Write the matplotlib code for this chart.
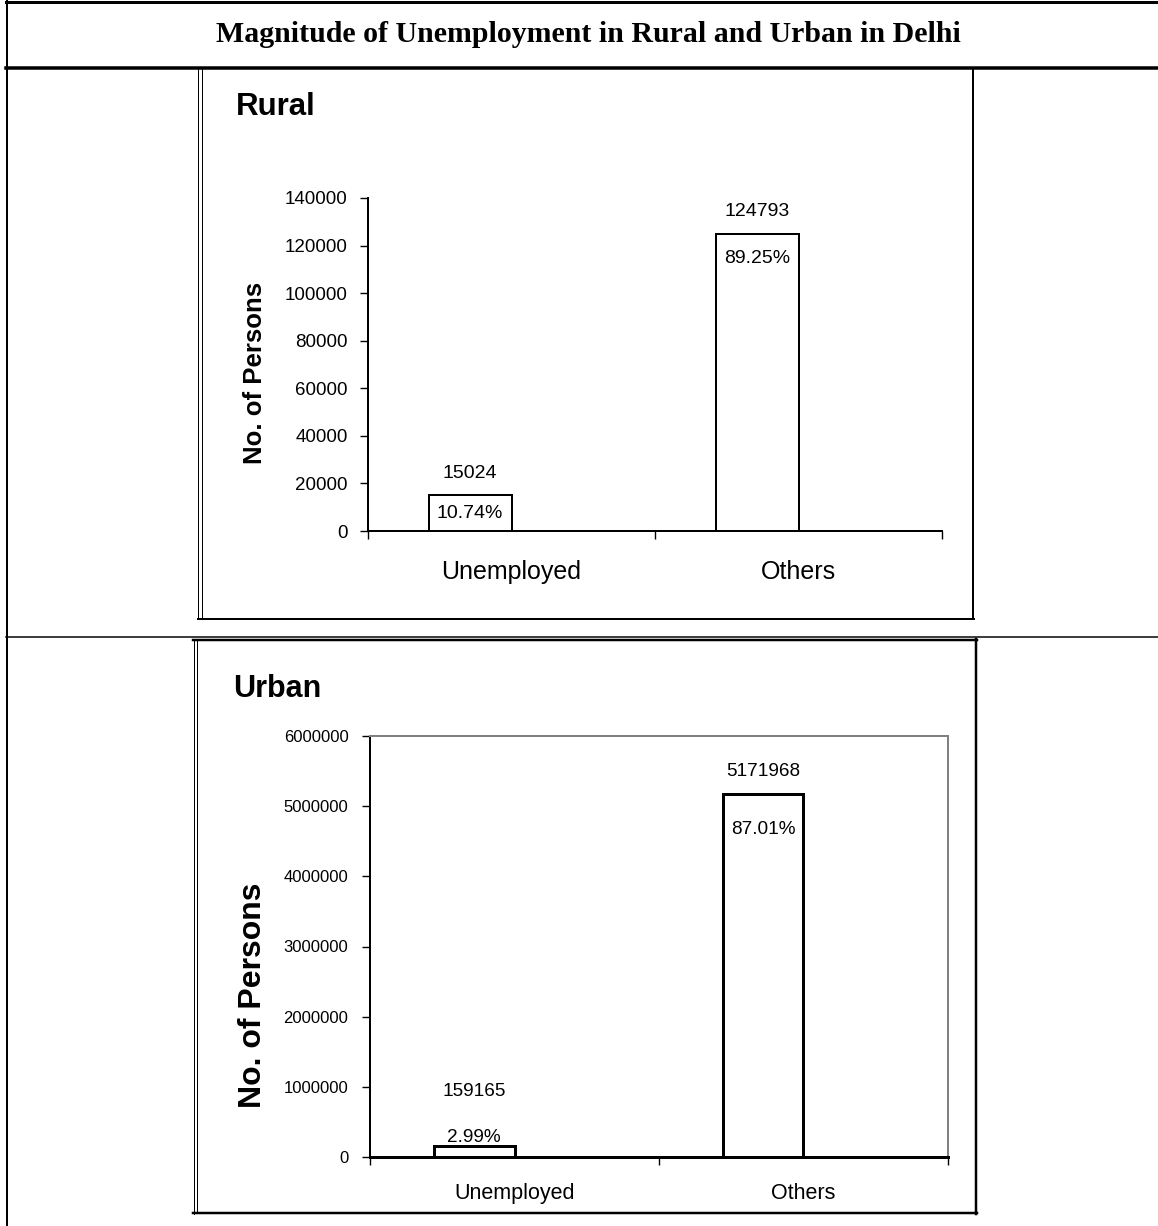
import matplotlib.pyplot as plt
import numpy as np

# Population counts for Delhi, rural and urban
categories = ["Unemployed", "Others"]
rural_persons = [15024, 124793]
rural_share = [10.74, 89.25]
urban_persons = [159165, 5171968]
urban_share = [2.99, 87.01]

rural_yticks = [0, 20000, 40000, 60000, 80000, 100000, 120000, 140000]
urban_yticks = [0, 1000000, 2000000, 3000000, 4000000, 5000000, 6000000]

W, H = 1158, 1226
plt.rcParams['font.family'] = ['Liberation Sans', 'DejaVu Sans']

fig = plt.figure(figsize=(W / 100, H / 100), dpi=100)


def px_axes(x0, y0, x1, y1):
    return fig.add_axes([x0 / W, 1 - y1 / H, (x1 - x0) / W, (y1 - y0) / H])


def lw(px):
    return px * 0.72


# table frame and chart boxes, drawn in pixel space
frame = fig.add_axes([0, 0, 1, 1], zorder=0)
frame.set_xlim(0, W)
frame.set_ylim(H, 0)
frame.axis('off')
k = 'black'
frame.plot([6, W], [1.5, 1.5], color=k, lw=lw(3))
frame.plot([7, 7], [0, H], color=k, lw=lw(2))
frame.plot([6, W], [68, 68], color=k, lw=lw(3.5))
frame.plot([6, W], [637, 637], color=k, lw=lw(1.5))
# rural box
frame.plot([198, 198], [69, 619], color=k, lw=lw(1))
frame.plot([201.5, 201.5], [69, 617], color=k, lw=lw(1))
frame.plot([972.5, 972.5], [69, 619], color=k, lw=lw(2))
frame.plot([198, 973.5], [618.5, 618.5], color=k, lw=lw(2))
# urban box
frame.plot([193, 977], [639.5, 639.5], color=k, lw=lw(2.5))
frame.plot([193.5, 193.5], [639, 1214], color=k, lw=lw(1))
frame.plot([197, 197], [641, 1212], color=k, lw=lw(1))
frame.plot([976, 976], [639, 1214], color=k, lw=lw(2.5))
frame.plot([193, 977], [1213, 1213], color=k, lw=lw(2.5))

fig.text(588 / W, 1 - 34 / H, "Magnitude of Unemployment in Rural and Urban in Delhi",
         ha='center', va='center', fontsize=21.5, fontweight='bold',
         family=['Liberation Serif', 'DejaVu Serif'])


def draw_panel(ax, values, shares, yticks, bw, offsets, spine_w, bar_w,
               tick_fs, cat_fs, val_fs, ylab_fs, ylab_pos, ypad, xpad):
    x = np.arange(len(categories))
    ax.bar(x - bw / 2, values, width=bw, color='white', edgecolor='black',
           linewidth=lw(bar_w), zorder=3)
    ax.set_xlim(-0.5, len(categories) - 0.5)
    ax.set_ylim(yticks[0], yticks[-1])
    ax.set_yticks(yticks)
    ax.set_yticklabels([str(t) for t in yticks], fontsize=tick_fs)
    ax.set_xticks(np.arange(len(categories) + 1) - 0.5)
    ax.set_xticklabels([])
    ax.set_xticks(x, minor=True)
    ax.set_xticklabels(categories, minor=True, fontsize=cat_fs)
    ax.tick_params(axis='x', which='major', direction='out', length=6, width=1)
    ax.tick_params(axis='x', which='minor', length=0, pad=xpad)
    ax.tick_params(axis='y', direction='out', length=5.5, width=1, pad=ypad)
    ax.spines['left'].set_linewidth(lw(2))
    ax.spines['bottom'].set_linewidth(lw(spine_w))
    ax.set_ylabel("No. of Persons", fontsize=ylab_fs, fontweight='bold')
    ax.yaxis.set_label_coords(*ylab_pos)
    for i, (v, s) in enumerate(zip(values, shares)):
        up, down = offsets[i]
        ax.annotate(str(v), (x[i] - bw / 2, v), xytext=(0, up), textcoords='offset points',
                    ha='center', va='center', fontsize=val_fs)
        ax.annotate(f"{s:.2f}%", (x[i] - bw / 2, v), xytext=(0, down), textcoords='offset points',
                    ha='center', va='center', fontsize=val_fs, zorder=4)


# Rural
ax1 = px_axes(368, 198, 942, 531)
ax1.spines['top'].set_visible(False)
ax1.spines['right'].set_visible(False)
draw_panel(ax1, rural_persons, rural_share, rural_yticks, 0.289,
           [(lw(22), lw(-18)), (lw(23), lw(-24))], 2, 2,
           13.5, 18, 14, 18.5, (-0.176, 0.474), 9, 21)
fig.text(236 / W, 1 - 115 / H, "Rural", ha='left', va='baseline',
         fontsize=22.5, fontweight='bold')

# Urban
ax2 = px_axes(370, 736, 948, 1157)
for side in ['top', 'right']:
    ax2.spines[side].set_color('#808080')
    ax2.spines[side].set_linewidth(lw(2))
draw_panel(ax2, urban_persons, urban_share, urban_yticks, 0.28,
           [(lw(54), lw(8)), (lw(23), lw(-35))], 3, 3,
           12, 15.5, 13.7, 23, (-0.177, 0.385), 10, 19)
fig.text(233 / W, 1 - 697 / H, "Urban", ha='left', va='baseline',
         fontsize=22, fontweight='bold')

fig.savefig("out.png", dpi=100)
